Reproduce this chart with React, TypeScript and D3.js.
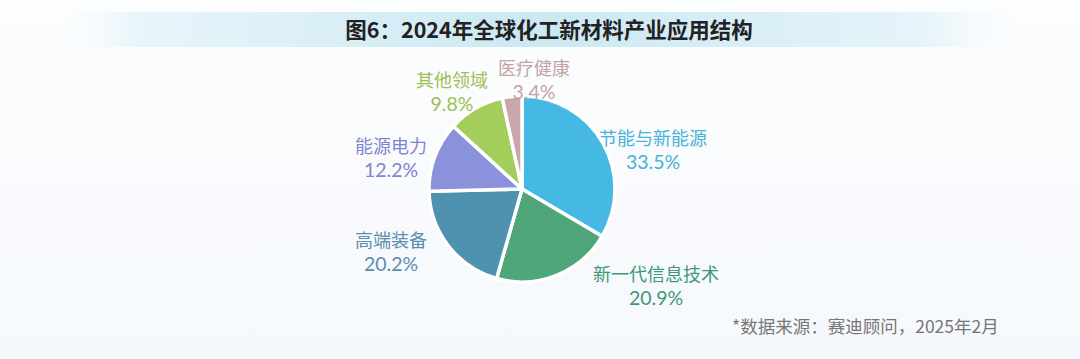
import { arc, pie, scaleOrdinal } from "d3";

const W = 1080;
const H = 359;

const categories = ["节能与新能源", "新一代信息技术", "高端装备", "能源电力", "其他领域", "医疗健康"];
const shares = [33.5, 20.9, 20.2, 12.2, 9.8, 3.4];
const sliceColors = ["#45b8e4", "#4ea67a", "#4f92b0", "#8a92dc", "#a5cd5c", "#c8a6a9"];
const textColors = ["#48b3d6", "#3f9878", "#5a8fae", "#7d86cf", "#9cc054", "#c4a3a5"];

// label anchor points (first line baseline), relative to the pie centre
const labelPos = [
  [131, -44],
  [134, 92],
  [-131, 58],
  [-131, -36],
  [-70, -102],
  [12, -114],
];

const cx = 522;
const cy = 189;
const radius = 93;

const fill = scaleOrdinal<string, string>().domain(categories).range(sliceColors);
const txt = scaleOrdinal<string, string>().domain(categories).range(textColors);

const arcs = pie<number>().sort(null)(shares);
const arcGen = arc<any>().innerRadius(0).outerRadius(radius);

export default function App() {
  return (
    <svg
      width={W}
      height={H}
      style={{ position: "absolute", left: 0, top: 0, fontFamily: "'Noto Sans CJK SC', 'Noto Sans', sans-serif" }}
    >
      <defs>
        <linearGradient id="band" x1="0" x2="1" y1="0" y2="0">
          <stop offset="0" stopColor="#ffffff" stopOpacity="0" />
          <stop offset="0.1" stopColor="#e8f5fb" />
          <stop offset="0.5" stopColor="#cbe8f3" />
          <stop offset="0.88" stopColor="#e6f4fa" />
          <stop offset="1" stopColor="#ffffff" stopOpacity="0" />
        </linearGradient>
        <linearGradient id="bg" x1="0" x2="0" y1="0" y2="1">
          <stop offset="0" stopColor="#fcfdfe" />
          <stop offset="1" stopColor="#f5f8fc" />
        </linearGradient>
      </defs>
      <rect width={W} height={H} fill="url(#bg)" />
      <rect x={36} y={12} width={1010} height={35} fill="url(#band)" />
      <text x={549} y={38} textAnchor="middle" fontSize={21.5} fontWeight="bold" fill="#222">
        图6：2024年全球化工新材料产业应用结构
      </text>

      <g transform={`translate(${cx},${cy})`}>
        {arcs.map((a, i) => (
          <path key={categories[i]} d={arcGen(a) as string} fill={fill(categories[i])} stroke="#ffffff" strokeWidth={3.5} strokeLinejoin="round" />
        ))}
        {arcs.map((a, i) => (
          <g key={"l" + i} fill={txt(categories[i])} fontSize={18} textAnchor="middle">
            <text x={labelPos[i][0]} y={labelPos[i][1]}>{categories[i]}</text>
            <text x={labelPos[i][0]} y={labelPos[i][1] + 24} fontSize={19.5} fontFamily="Lato, 'Noto Sans', sans-serif">
              {shares[i].toFixed(1)}%
            </text>
          </g>
        ))}
      </g>

      <text x={732} y={333} fontSize={17.5} fill="#767676">
        *数据来源：赛迪顾问，2025年2月
      </text>
    </svg>
  );
}
